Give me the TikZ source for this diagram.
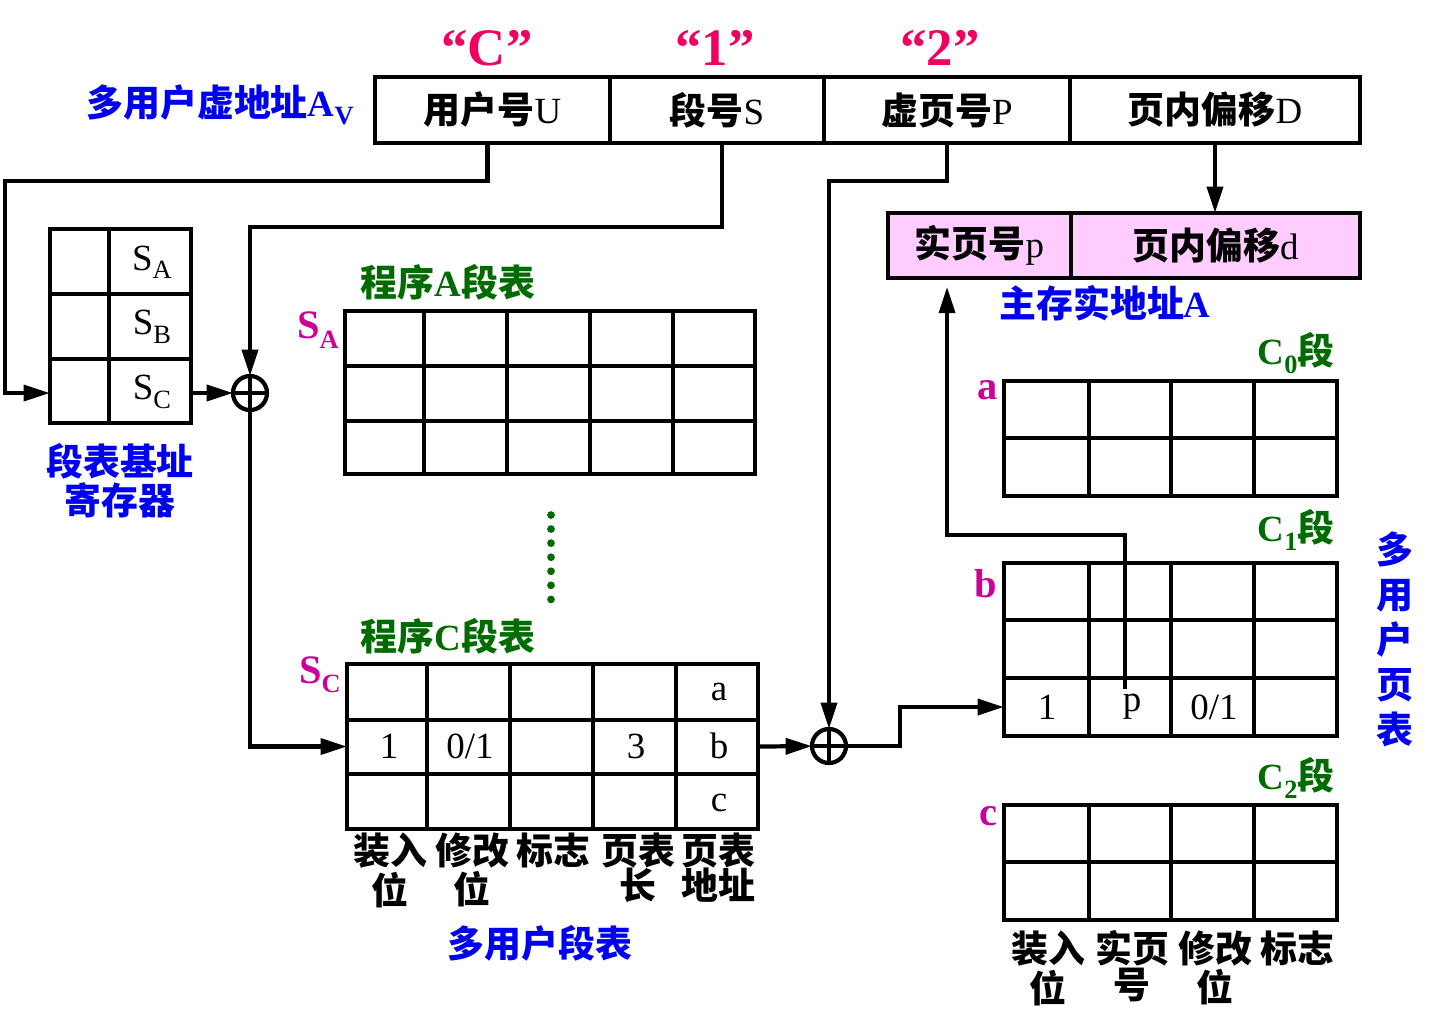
\documentclass[tikz,border=0pt]{standalone}
\usepackage{fontspec}
\setmainfont{Liberation Serif}
\newfontfamily\hei{Noto Sans CJK SC}[BoldFont={Noto Sans CJK SC Black}]
\usetikzlibrary{arrows.meta, positioning}
\definecolor{lanse}{HTML}{0000F0}
\definecolor{lvse}{HTML}{006B00}
\definecolor{yanghong}{HTML}{CC0099}
\definecolor{meihong}{HTML}{F00060}
\definecolor{fenhong}{HTML}{FFCCFF}
\newcommand{\hanzi}[1]{{\hei\bfseries #1}}
\newcommand{\xia}[1]{\raisebox{-0.5ex}{\fontsize{7.5}{8}\selectfont #1}}
\tikzset{
  every picture/.style={>={Triangle[length=7.5pt,width=4.5pt]}},
  zi/.style={font=\fontsize{10.5}{10}\selectfont, inner sep=0pt},
  ziduan/.style={draw, line width=1.2pt, inner sep=0pt, outer sep=0pt, minimum height=0.66cm, zi},
  biao/.style={draw, line width=1.2pt, inner sep=0pt, outer sep=0pt},
  gexian/.style={line width=1.2pt},
  jiantou/.style={->, line width=1.2pt},
  jiahao/.style={circle, draw, line width=1.2pt, minimum size=0.34cm, inner sep=0pt, outer sep=0pt,
                 path picture={\draw[line width=1.2pt] (path picture bounding box.north) -- (path picture bounding box.south)
                                 (path picture bounding box.west) -- (path picture bounding box.east);}},
  lanzi/.style={zi, text=lanse, font=\fontsize{10.5}{10}\selectfont\bfseries},
  lvzi/.style={zi, text=lvse, font=\fontsize{10.5}{10}\selectfont\bfseries},
  hongzi/.style={inner sep=0pt, text=yanghong, font=\fontsize{11.5}{11}\selectfont\bfseries},
  yinhao/.style={font=\fontsize{15}{16}\selectfont\bfseries, text=meihong, inner sep=0pt},
  lanming/.style={zi, align=center, anchor=north},
}
\begin{document}
\begin{tikzpicture}[x=0.01cm, y=-0.01cm]
  \useasboundingbox (0,0) rectangle (1438,1029);
  % multi-user virtual address
  \node[ziduan, minimum width=2.35cm] (U) at (492.5,110) {\hanzi{用户号}U};
  \node[ziduan, minimum width=2.14cm] (S) at (717,110) {\hanzi{段号}S};
  \node[ziduan, minimum width=2.46cm] (P) at (947,110) {\hanzi{虚页号}P};
  \node[ziduan, minimum width=2.90cm] (D) at (1215,110) {\hanzi{页内偏移}D};
  \node[yinhao] (qC) at (487,48) {``C''};
  \node[yinhao] (q1) at (715,48) {``1''};
  \node[yinhao] (q2) at (940,48) {``2''};
  \node[lanzi] (Av) at (220,105) {\hanzi{多用户虚地址}A\xia{V}};
  % real address
  \node[ziduan, fill=fenhong, minimum width=1.83cm, minimum height=0.65cm] (sp) at (979.5,245.5) {\hanzi{实页号}p};
  \node[ziduan, fill=fenhong, minimum width=2.89cm, minimum height=0.65cm] (sd) at (1215.5,245.5) {\hanzi{页内偏移}d};
  \node[lanzi] (A) at (1105,303) {\hanzi{主存实地址}A};
  % segment table base register
  \node[biao, minimum width=1.41cm, minimum height=1.94cm] (reg) at (120.5,326) {};
  \draw[gexian] (109,229) -- (109,423);
  \foreach \y in {294,359} \draw[gexian] (50,\y) -- (191,\y);
  \node[zi] (rA) at (152,262) {S\xia{A}};
  \node[zi] (rB) at (152,327) {S\xia{B}};
  \node[zi] (rC) at (152,392) {S\xia{C}};
  \node[lanzi, align=center] (regname) at (120,481) {\hanzi{段表基址}\\\hanzi{寄存器}};
  \node[jiahao] (jia1) at (250,393) {};
  \node[jiahao] (jia2) at (829,746) {};
  % program A segment table
  \node[biao, minimum width=4.10cm, minimum height=1.63cm] (tabA) at (550,392.5) {};
  \foreach \x in {424,507,590,673} \draw[gexian] (\x,311) -- (\x,474);
  \foreach \y in {366,421} \draw[gexian] (345,\y) -- (755,\y);
  \node[lvzi] (nameA) at (448,282) {\hanzi{程序}A\hanzi{段表}};
  \node[hongzi] (sA) at (318,330) {S\xia{A}};
  \draw[lvse, line width=2.2pt, line cap=round, dash pattern=on 0pt off 4pt] (551,515) -- (551,600);
  % program C segment table
  \node[biao, minimum width=4.11cm, minimum height=1.65cm] (tabC) at (552.5,746.5) {};
  \foreach \x in {427,510,593,676} \draw[gexian] (\x,664) -- (\x,829);
  \foreach \y in {720,774} \draw[gexian] (347,\y) -- (758,\y);
  \node[lvzi] (nameC) at (448,636) {\hanzi{程序}C\hanzi{段表}};
  \node[hongzi] (sC) at (320,675) {S\xia{C}};
  \node[zi] (ca) at (719,692) {a};
  \node[zi] (c1) at (389,746) {1};
  \node[zi] (c2) at (470,746) {0/1};
  \node[zi] (c4) at (636,746) {3};
  \node[zi] (cb) at (719,746) {b};
  \node[zi] (cc) at (719,803) {c};
  \node[lanming] (lc1) at (390,832) {\hanzi{装入}\\\hanzi{位}};
  \node[lanming] (lc2) at (472,832) {\hanzi{修改}\\\hanzi{位}};
  \node[lanming] (lc3) at (553,832) {\hanzi{标志}};
  \node[lanming] (lc4) at (638,832) {\hanzi{页表}\\\hanzi{长}};
  \node[lanming] (lc5) at (718,832) {\hanzi{页表}\\\hanzi{地址}};
  \node[lanzi] (duanbiao) at (540,943) {\hanzi{多用户段表}};
  % page tables
  \node[biao, minimum width=3.33cm, minimum height=1.15cm] (tabC0) at (1170.5,438.5) {};
  \node[biao, minimum width=3.33cm, minimum height=1.73cm] (tabC1) at (1170.5,649.5) {};
  \node[biao, minimum width=3.33cm, minimum height=1.15cm] (tabC2) at (1170.5,862.5) {};
  \foreach \x in {1089,1171,1254} {
    \draw[gexian] (\x,381) -- (\x,496);
    \draw[gexian] (\x,563) -- (\x,736);
    \draw[gexian] (\x,805) -- (\x,920);
  }
  \foreach \y in {438,620,678,862} \draw[gexian] (1004,\y) -- (1337,\y);
  \node[lvzi] (nC0) at (1296,353) {C\xia{0}\hanzi{段}};
  \node[lvzi] (nC1) at (1296,530) {C\xia{1}\hanzi{段}};
  \node[lvzi] (nC2) at (1296,778) {C\xia{2}\hanzi{段}};
  \node[hongzi] (pa) at (988,390) {a};
  \node[hongzi] (pb) at (986,584) {b};
  \node[hongzi] (pc) at (988,816) {c};
  \node[zi] (b1) at (1047,707) {1};
  \node[zi] (bp) at (1132,707) {p};
  \node[zi] (b3) at (1214,707) {0/1};
  \node[lanming] (lp1) at (1048,930) {\hanzi{装入}\\\hanzi{位}};
  \node[lanming] (lp2) at (1132,930) {\hanzi{实页}\\\hanzi{号}};
  \node[lanming] (lp3) at (1215,930) {\hanzi{修改}\\\hanzi{位}};
  \node[lanming] (lp4) at (1297,930) {\hanzi{标志}};
  \node[lanzi, align=center, font=\fontsize{10.5}{12.8}\selectfont] (yebiao) at (1395,639) {\hanzi{多}\\\hanzi{用}\\\hanzi{户}\\\hanzi{页}\\\hanzi{表}};
  % connectors
  \draw[jiantou] ([xshift=-0.05cm]U.south) |- (5,181) |- (reg.west |- jia1);
  \draw[jiantou] ([xshift=0.05cm]S.south) |- (250,227) -- (jia1);
  \draw[jiantou] (reg.east |- jia1) -- (jia1);
  \draw[jiantou] (jia1) |- (tabC.west);
  \draw[jiantou] (tabC.east) -- (jia2);
  \draw[jiantou] (P.south) |- (829,181) -- (jia2);
  \draw[jiantou] (jia2) -- (900,746) |- (tabC1.west |- b1);
  \draw[jiantou] (D.south) -- (D.south |- sd.north);
  \draw[jiantou, shorten >=2.5pt] ([xshift=-0.07cm, yshift=0.05cm]bp.north) |- (947,535) -- (947,535 |- sp.south);
\end{tikzpicture}
\end{document}
